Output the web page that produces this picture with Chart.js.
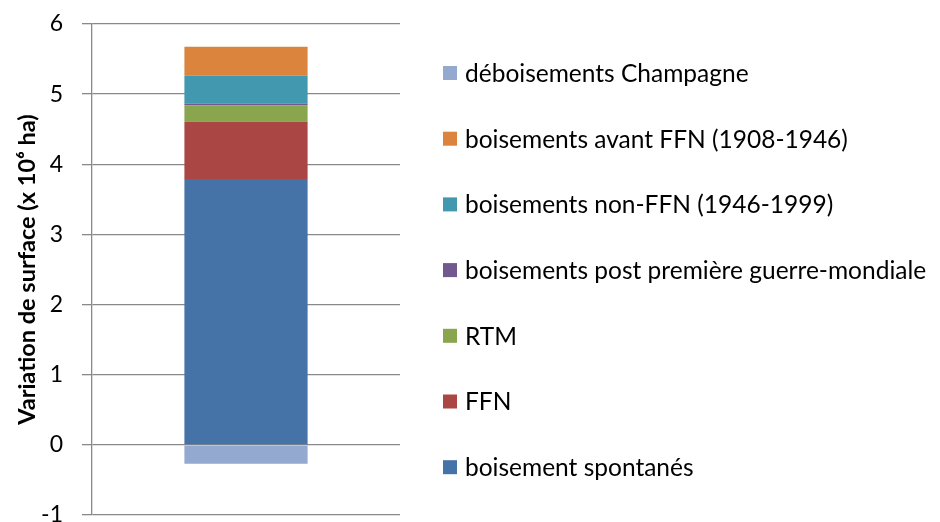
<!DOCTYPE html>
<html>
<head>
<meta charset="utf-8">
<script src="https://cdn.jsdelivr.net/npm/chart.js@4"></script>
<style>
  html, body { margin: 0; padding: 0; background: #fff; }
  #wrap { width: 940px; height: 522px; }
</style>
</head>
<body>
<div id="wrap"><canvas id="myChart" width="940" height="522"></canvas></div>
<script>
const categories = [''];
const seriesNames = [
    'boisement spontanés',
    'FFN',
    'RTM',
    'boisements post première guerre-mondiale',
    'boisements non-FFN (1946-1999)',
    'boisements avant FFN (1908-1946)',
    'déboisements Champagne'
];
const seriesValues = [
    [3.79],
    [0.815],
    [0.235],
    [0.024],
    [0.40],
    [0.41],
    [-0.27]
];
const seriesColors = ['#4572A7', '#AA4643', '#89A54E', '#71588F', '#4198AF', '#DB843D', '#93A9CF'];
const yTicks = [-1, 0, 1, 2, 3, 4, 5, 6];

const FONT = 'Lato, "Open Sans", sans-serif';
const GRID = '#898989';

// legend drawn to the right, newest series on top like the original
const sideLegend = {
    id: 'sideLegend',
    afterDraw(chart) {
        const ctx = chart.ctx;
        const items = chart.data.datasets.slice().reverse();
        ctx.save();
        ctx.font = '24.5px ' + FONT;
        ctx.textBaseline = 'middle';
        ctx.textAlign = 'left';
        items.forEach(function(ds, i) {
            const y = 73 + i * 65.7;
            ctx.fillStyle = ds.backgroundColor;
            ctx.fillRect(443, y - 7, 14, 14);
            ctx.fillStyle = '#000';
            ctx.fillText(ds.label, 465, y + 1);
        });
        ctx.restore();
    }
};

const ctx = document.getElementById('myChart').getContext('2d');
const myChart = new Chart(ctx, {
    type: 'bar',
    data: {
        labels: categories,
        datasets: seriesNames.map(function(name, i) {
            return {
                label: name,
                data: seriesValues[i],
                backgroundColor: seriesColors[i],
                borderWidth: 0,
                barPercentage: 0.4,
                categoryPercentage: 1.0
            };
        })
    },
    options: {
        responsive: false,
        animation: false,
        layout: { padding: { left: 0, top: 24, right: 540, bottom: 7 } },
        plugins: {
            legend: { display: false },
            title: { display: false },
            tooltip: { enabled: false }
        },
        scales: {
            x: {
                stacked: true,
                display: false
            },
            y: {
                stacked: true,
                min: -1,
                max: 6,
                afterBuildTicks: function(scale) {
                    scale.ticks = yTicks.map(function(v) { return { value: v }; });
                },
                afterFit: function(scale) {
                    scale.width = 92;
                    scale.paddingTop = 0;
                    scale.paddingBottom = 0;
                },
                ticks: {
                    color: '#000',
                    padding: 19,
                    font: { family: FONT, size: 23 }
                },
                grid: {
                    color: GRID,
                    lineWidth: 1.3,
                    tickLength: 10,
                    drawTicks: true
                },
                border: { color: GRID, width: 1.3 },
                title: {
                    display: true,
                    text: 'Variation de surface (x 10⁶ ha)',
                    color: '#000',
                    font: { family: FONT, size: 23.5, weight: 'bold' },
                    padding: { top: 13, bottom: 0 }
                }
            }
        }
    },
    plugins: [sideLegend]
});
</script>
</body>
</html>
